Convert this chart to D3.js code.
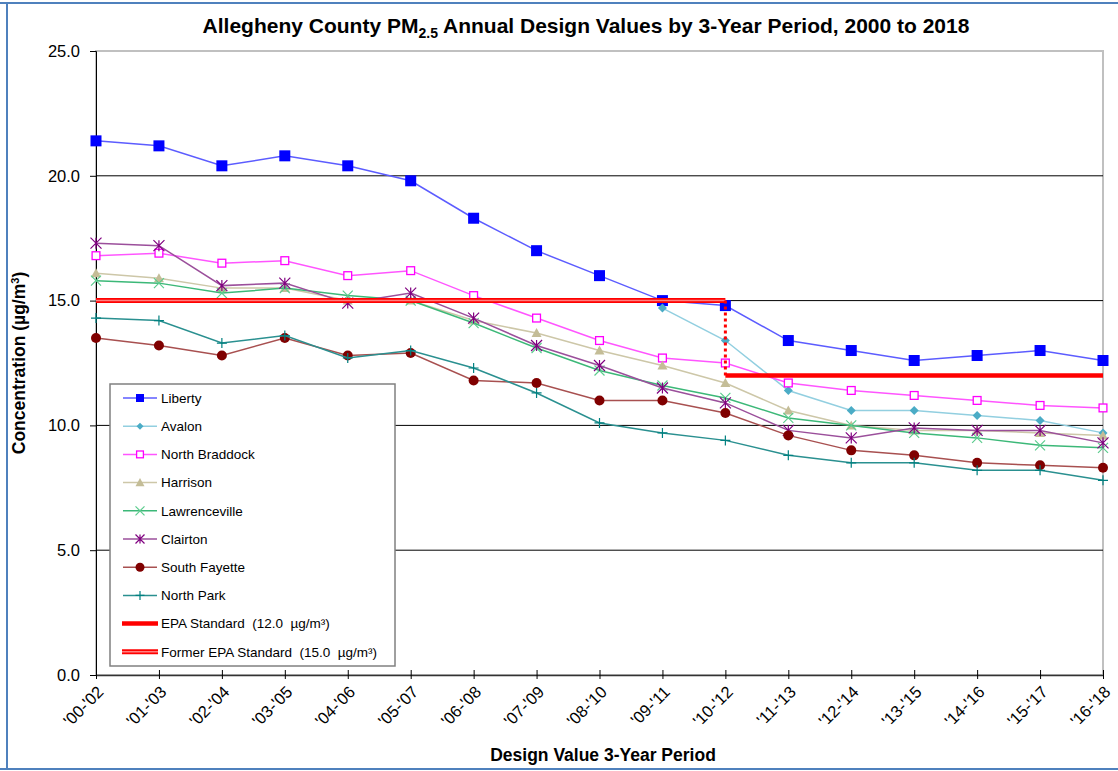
<!DOCTYPE html>
<html>
<head>
<meta charset="utf-8">
<script src="https://cdn.jsdelivr.net/npm/d3@7"></script>
<style>
  body { margin: 0; background: #fff; }
  text { font-family: "Liberation Sans", Arial, sans-serif; fill: #000; }
  .title { font-size: 21px; font-weight: bold; }
  .axisTitle { font-size: 17.5px; font-weight: bold; }
  .tick text { font-size: 16.5px; }
  .legendText { font-size: 13.5px; }
</style>
</head>
<body>
<div id="container"></div>
<script>
// Hard Code values ---------- ---------- ----------
let canvasW = 1118, canvasH = 771;
let periods = ["'00-'02","'01-'03","'02-'04","'03-'05","'04-'06","'05-'07","'06-'08","'07-'09","'08-'10",
               "'09-'11","'10-'12","'11-'13","'12-'14","'13-'15","'14-'16","'15-'17","'16-'18"];
let yTicks = [0, 5, 10, 15, 20, 25];

let liberty       = [21.4,21.2,20.4,20.8,20.4,19.8,18.3,17.0,16.0,15.0,14.8,13.4,13.0,12.6,12.8,13.0,12.6];
let avalon        = [null,null,null,null,null,null,null,null,null,14.7,13.4,11.4,10.6,10.6,10.4,10.2,9.7];
let northBraddock = [16.8,16.9,16.5,16.6,16.0,16.2,15.2,14.3,13.4,12.7,12.5,11.7,11.4,11.2,11.0,10.8,10.7];
let harrison      = [16.1,15.9,15.5,15.5,15.0,15.0,14.2,13.7,13.0,12.4,11.7,10.6,10.0,9.8,9.8,9.7,9.6];
let lawrenceville = [15.8,15.7,15.3,15.5,15.2,15.0,14.1,13.1,12.2,11.6,11.1,10.3,10.0,9.7,9.5,9.2,9.1];
let clairton      = [17.3,17.2,15.6,15.7,14.9,15.3,14.3,13.2,12.4,11.5,10.9,9.8,9.5,9.9,9.8,9.8,9.3];
let southFayette  = [13.5,13.2,12.8,13.5,12.8,12.9,11.8,11.7,11.0,11.0,10.5,9.6,9.0,8.8,8.5,8.4,8.3];
let northPark     = [14.3,14.2,13.3,13.6,12.7,13.0,12.3,11.3,10.1,9.7,9.4,8.8,8.5,8.5,8.2,8.2,7.8];

let epaStandard = 12.0, formerStandard = 15.0;
let formerPeriods = ["'00-'02", "'10-'12"];
let epaPeriods = ["'10-'12", "'16-'18"];

let series = [
  {name:"Liberty",        values:liberty,       line:"#5c5cff", mark:"#0000ff", shape:"square",  size:11, lsize:8},
  {name:"Avalon",         values:avalon,        line:"#92cfe0", mark:"#4bacc6", shape:"diamond", size:9,  lsize:7},
  {name:"North Braddock", values:northBraddock, line:"#ff55ff", mark:"#ff00ff", shape:"open",    size:9,  lsize:8},
  {name:"Harrison",       values:harrison,      line:"#cdc7a8", mark:"#c4bd97", shape:"triangle",size:10, lsize:9},
  {name:"Lawrenceville",  values:lawrenceville, line:"#3cb878", mark:"#5ccc8e", shape:"x",       size:10, lsize:9},
  {name:"Clairton",       values:clairton,      line:"#9b4f9b", mark:"#800080", shape:"star",    size:11, lsize:9},
  {name:"South Fayette",  values:southFayette,  line:"#a85050", mark:"#800000", shape:"circle",  size:10, lsize:9},
  {name:"North Park",     values:northPark,     line:"#2a9090", mark:"#008080", shape:"plus",    size:10, lsize:9}
];

//Initialize ---------- ---------- ----------
let svg = d3.select("#container").append("svg").attr("width", canvasW).attr("height", canvasH);

// outer border (blue)
svg.append("line").attr("x1",0).attr("x2",canvasW).attr("y1",3).attr("y2",3).attr("stroke","#4f81bd").attr("stroke-width",2);
svg.append("line").attr("x1",0).attr("x2",canvasW).attr("y1",769).attr("y2",769).attr("stroke","#4f81bd").attr("stroke-width",2);
svg.append("line").attr("x1",7).attr("x2",7).attr("y1",3).attr("y2",769).attr("stroke","#4f81bd").attr("stroke-width",2);

let x = d3.scalePoint().domain(periods).range([96, 1103]);
let y = d3.scaleLinear().domain([0, 25]).range([675, 51]);

// Title
let t = svg.append("text").attr("class","title").attr("x",586).attr("y",33).attr("text-anchor","middle");
t.append("tspan").text("Allegheny County PM");
t.append("tspan").attr("font-size","14px").attr("dy",5).text("2.5");
t.append("tspan").attr("dy",-5).text(" Annual Design Values by 3-Year Period, 2000 to 2018");

// Plot frame + grid
svg.append("rect").attr("x",96).attr("y",y(25)).attr("width",1103-96).attr("height",y(0)-y(25))
  .attr("fill","none").attr("stroke","#c0c0c0").attr("stroke-width",2);
svg.append("g").selectAll("line").data(yTicks.filter(d=>d>0 && d<25)).enter().append("line")
  .attr("x1",96).attr("x2",1103).attr("y1",d=>y(d)).attr("y2",d=>y(d))
  .attr("stroke","#000").attr("stroke-width",1);

// Axes
let yAxis = svg.append("g").attr("transform","translate(96,0)")
  .call(d3.axisLeft(y).tickValues(yTicks).tickFormat(d3.format(".1f")).tickSize(6).tickPadding(10));
yAxis.select(".domain").attr("stroke","#000");
yAxis.selectAll(".tick line").attr("stroke","#000");

let xAxis = svg.append("g").attr("transform","translate(0,675)")
  .call(d3.axisBottom(x).tickSize(4).tickSizeOuter(0));
xAxis.select(".domain").attr("stroke","#333").attr("stroke-width",1.5);
xAxis.selectAll(".tick line").attr("y1",-5).attr("stroke","#000");
xAxis.selectAll(".tick text").attr("y",0).attr("dy","0.35em").attr("text-anchor","end")
  .attr("transform","translate(4,14) rotate(-45)");

// Axis titles
svg.append("text").attr("class","axisTitle").attr("x",603).attr("y",761).attr("text-anchor","middle")
  .text("Design Value 3-Year Period");
let yt = svg.append("text").attr("class","axisTitle").attr("transform","translate(25,363) rotate(-90)")
  .attr("text-anchor","middle");
yt.append("tspan").text("Concentration (µg/m");
yt.append("tspan").attr("font-size","11px").attr("dy",-6).text("3");
yt.append("tspan").attr("dy",6).text(")");

// Markers ---------- ---------- ----------
function marker(g, shape, s, color) {
  let h = s/2;
  if (shape==="square") g.append("rect").attr("x",-h).attr("y",-h).attr("width",s).attr("height",s).attr("fill",color);
  else if (shape==="open") g.append("rect").attr("x",-h+0.6).attr("y",-h+0.6).attr("width",s-1.2).attr("height",s-1.2)
    .attr("fill","#fff").attr("stroke",color).attr("stroke-width",1.3);
  else if (shape==="diamond") g.append("path").attr("d",`M0,${-h}L${h},0L0,${h}L${-h},0Z`).attr("fill",color);
  else if (shape==="triangle") g.append("path").attr("d",`M0,${-h}L${h},${h*0.8}L${-h},${h*0.8}Z`).attr("fill",color);
  else if (shape==="circle") g.append("circle").attr("r",h).attr("fill",color);
  else if (shape==="x") g.append("path").attr("d",`M${-h},${-h}L${h},${h}M${-h},${h}L${h},${-h}`).attr("stroke",color).attr("stroke-width",1.2);
  else if (shape==="star") g.append("path").attr("d",`M${-h},${-h}L${h},${h}M${-h},${h}L${h},${-h}M0,${-h}L0,${h}`).attr("stroke",color).attr("stroke-width",1.2);
  else if (shape==="plus") g.append("path").attr("d",`M${-h},0L${h},0M0,${-h}L0,${h}`).attr("stroke",color).attr("stroke-width",1.2);
}

let line = d3.line().defined(d=>d.v!=null).x(d=>x(d.p)).y(d=>y(d.v));
series.forEach(s=>{
  let pts = periods.map((p,i)=>({p:p, v:s.values[i]}));
  svg.append("path").datum(pts).attr("d",line).attr("fill","none")
    .attr("stroke",s.line).attr("stroke-width",1.5);
  pts.filter(d=>d.v!=null).forEach(d=>{
    let g = svg.append("g").attr("transform","translate("+x(d.p)+","+y(d.v)+")");
    marker(g, s.shape, s.size, s.mark);
  });
});

// Standards ---------- ---------- ----------
svg.append("line").attr("x1",x(formerPeriods[0])).attr("x2",x(formerPeriods[1]))
  .attr("y1",y(formerStandard)).attr("y2",y(formerStandard)).attr("stroke","#ff0000").attr("stroke-width",5);
svg.append("line").attr("x1",x(formerPeriods[0])).attr("x2",x(formerPeriods[1]))
  .attr("y1",y(formerStandard)).attr("y2",y(formerStandard)).attr("stroke","#ff8080").attr("stroke-width",1.5);
svg.append("line").attr("x1",x(epaPeriods[0])).attr("x2",x(epaPeriods[0]))
  .attr("y1",y(formerStandard)).attr("y2",y(epaStandard)).attr("stroke","#ff0000").attr("stroke-width",3)
  .attr("stroke-dasharray","3,3");
svg.append("line").attr("x1",x(epaPeriods[0])).attr("x2",x(epaPeriods[1]))
  .attr("y1",y(epaStandard)).attr("y2",y(epaStandard)).attr("stroke","#ff0000").attr("stroke-width",4.5);

// Legend ---------- ---------- ----------
let lg = svg.append("g");
lg.append("rect").attr("x",110).attr("y",384).attr("width",285).attr("height",282)
  .attr("fill","#fff").attr("stroke","#808080").attr("stroke-width",1.5);
let ly = (i)=>398 + i*28.2;
series.forEach((s,i)=>{
  lg.append("line").attr("x1",123).attr("x2",157).attr("y1",ly(i)).attr("y2",ly(i)).attr("stroke",s.line).attr("stroke-width",1.5);
  let g = lg.append("g").attr("transform","translate(140,"+ly(i)+")");
  marker(g, s.shape, s.lsize, s.mark);
  lg.append("text").attr("class","legendText").attr("x",161).attr("y",ly(i)).attr("dy","0.35em").text(s.name);
});
lg.append("line").attr("x1",122).attr("x2",158).attr("y1",ly(8)).attr("y2",ly(8)).attr("stroke","#ff0000").attr("stroke-width",4.5);
lg.append("text").attr("class","legendText").attr("x",161).attr("y",ly(8)).attr("dy","0.35em")
  .attr("xml:space","preserve").text("EPA Standard  (12.0  µg/m³)");
lg.append("line").attr("x1",122).attr("x2",158).attr("y1",ly(9)).attr("y2",ly(9)).attr("stroke","#ff0000").attr("stroke-width",5);
lg.append("line").attr("x1",122).attr("x2",158).attr("y1",ly(9)).attr("y2",ly(9)).attr("stroke","#ff8080").attr("stroke-width",1.5);
lg.append("text").attr("class","legendText").attr("x",161).attr("y",ly(9)).attr("dy","0.35em")
  .attr("xml:space","preserve").text("Former EPA Standard  (15.0  µg/m³)");
</script>
</body>
</html>
